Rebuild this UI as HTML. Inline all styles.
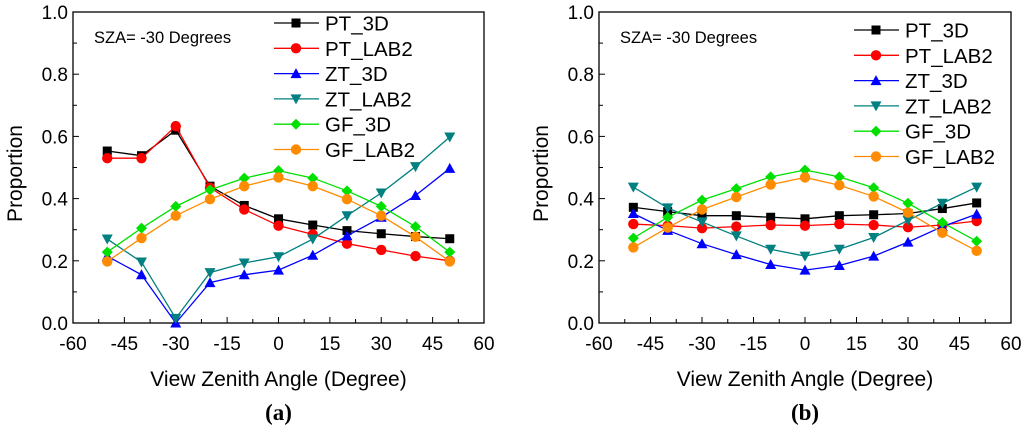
<!DOCTYPE html>
<html><head><meta charset="utf-8"><style>
body{margin:0;background:#fff;}
svg{display:block;font-family:"Liberation Sans",Arial,sans-serif;}
</style></head><body>
<svg id="c" width="1024" height="429" viewBox="0 0 1024 429"></svg>
<script>
const xCats=[-50,-40,-30,-20,-10,0,10,20,30,40,50];
const xTicks=[-60,-45,-30,-15,0,15,30,45,60];
const yTicks=[0,0.2,0.4,0.6,0.8,1.0];
const seriesNames=["PT_3D","PT_LAB2","ZT_3D","ZT_LAB2","GF_3D","GF_LAB2"];
const seriesColors=["#000000","#ff0000","#0000ff","#008080","#00e000","#ff8c00"];
const seriesMarkers=["square","circle","tri","tridown","diamond","circle"];
const aPT3D=[.553,.538,.62,.44,.378,.335,.315,.297,.287,.278,.271];
const aPTLAB2=[.53,.53,.633,.435,.365,.313,.285,.255,.235,.215,.2];
const aZT3D=[.215,.155,0,.13,.155,.17,.218,.28,.34,.41,.497];
const aZTLAB2=[.27,.196,.015,.162,.193,.213,.27,.345,.418,.503,.598];
const aGF3D=[.228,.305,.375,.428,.466,.49,.466,.425,.375,.31,.228];
const aGFLAB2=[.198,.273,.345,.398,.44,.468,.44,.398,.345,.277,.198];
const bPT3D=[.372,.358,.345,.345,.34,.335,.345,.348,.352,.368,.386];
const bPTLAB2=[.318,.313,.305,.31,.315,.313,.318,.315,.308,.315,.328];
const bZT3D=[.352,.298,.255,.22,.188,.17,.185,.215,.26,.31,.35];
const bZTLAB2=[.437,.37,.325,.28,.237,.215,.237,.275,.33,.385,.437];
const bGF3D=[.273,.34,.395,.432,.47,.492,.47,.435,.385,.323,.263];
const bGFLAB2=[.243,.307,.365,.405,.445,.468,.443,.407,.355,.29,.232];

const NS="http://www.w3.org/2000/svg";
const svg=document.getElementById('c');
function mk(tag,attrs,parent,text){const e=document.createElementNS(NS,tag);for(const k in attrs)e.setAttribute(k,attrs[k]);if(text!==undefined)e.textContent=text;(parent||svg).appendChild(e);return e;}
function marker(g,type,x,y,col){
  let e;
  if(type==="square")e=mk('rect',{x:x-4.5,y:y-4.5,width:9,height:9,fill:col},g);
  else if(type==="circle")e=mk('circle',{cx:x,cy:y,r:5.2,fill:col},g);
  else if(type==="tri")e=mk('polygon',{points:`${x},${y-5.5} ${x-5.5},${y+4.5} ${x+5.5},${y+4.5}`,fill:col},g);
  else if(type==="tridown")e=mk('polygon',{points:`${x},${y+5.5} ${x-5.5},${y-4.5} ${x+5.5},${y-4.5}`,fill:col},g);
  else e=mk('polygon',{points:`${x},${y-5.5} ${x+5.5},${y} ${x},${y+5.5} ${x-5.5},${y}`,fill:col},g);
  
  
}
function chart(id,L,R,legX,legY,data,label){
  const T=12,B=323;
  const g=mk('g',{});
  
  
  const xs=v=>L+(v+60)/120*(R-L);
  const ys=v=>B-v*(B-T);
  const fr=mk('rect',{x:L,y:T,width:R-L,height:B-T,fill:'none',stroke:'#000','stroke-width':1.3},g);
  
  for(let v=-60;v<=60;v+=7.5){const x=xs(v);const major=(v%15===0);mk('line',{x1:x,y1:B,x2:x,y2:B-(major?6:4),stroke:'#000','stroke-width':1},g);}
  for(let i=0;i<=10;i++){const y=ys(i/10);mk('line',{x1:L,y1:y,x2:L+(i%2===0?6:4),y2:y,stroke:'#000','stroke-width':1},g);}
  xTicks.forEach(v=>{const t=mk('text',{x:xs(v),y:B+27,'font-size':19,'text-anchor':'middle'},g,String(v));});
  yTicks.forEach(v=>{const t=mk('text',{x:L-5,y:ys(v)+7,'font-size':19,'text-anchor':'end'},g,v.toFixed(1));});
  const xt=mk('text',{x:(L+R)/2,y:386,'font-size':21,'text-anchor':'middle'},g,'View Zenith Angle (Degree)');
  
  const yt=mk('text',{x:0,y:0,'font-size':21,'text-anchor':'middle',transform:`translate(${L-51},${(T+B)/2+6}) rotate(-90)`},g,'Proportion');
  
  const sz=mk('text',{x:L+21,y:43,'font-size':16.5},g,'SZA= -30 Degrees');
  
  const lb=mk('text',{x:(L+R)/2,y:420,'font-size':23,'font-weight':'bold','text-anchor':'middle','font-family':'"Liberation Serif",serif'},g,'('+label+')');
  
  data.forEach((arr,si)=>{
    const col=seriesColors[si];
    const sg=mk('g',{},g);
    
    
    mk('polyline',{points:arr.map((v,i)=>xs(xCats[i])+','+ys(v)).join(' '),fill:'none',stroke:col,'stroke-width':1.3},sg);
    arr.forEach((v,i)=>marker(sg,seriesMarkers[si],xs(xCats[i]),ys(v),col));
  });
  seriesNames.forEach((n,i)=>{
    const y=legY+i*25.3;
    const lg=mk('g',{},g);
    
    
    mk('line',{x1:legX,y1:y,x2:legX+45,y2:y,stroke:seriesColors[i],'stroke-width':1.3},lg);
    marker(lg,seriesMarkers[i],legX+22,y,seriesColors[i]);
    mk('text',{x:legX+51,y:y+7.5,'font-size':20.5},lg,n);
  });
}
chart('a',73,484,274,23,[aPT3D,aPTLAB2,aZT3D,aZTLAB2,aGF3D,aGFLAB2],'a');
chart('b',599,1011,854,30,[bPT3D,bPTLAB2,bZT3D,bZTLAB2,bGF3D,bGFLAB2],'b');
</script>
</body></html>
